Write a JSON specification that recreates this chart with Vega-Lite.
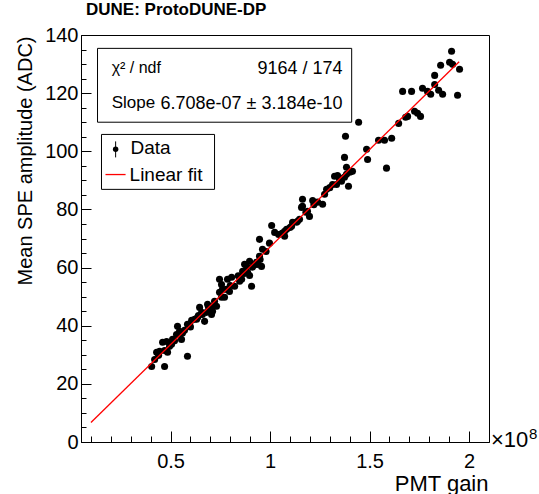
{
  "$schema": "https://vega.github.io/schema/vega-lite/v6.json",
  "width": 408,
  "height": 407,
  "autosize": "none",
  "padding": {"left": 81, "top": 35, "right": 50, "bottom": 52},
  "background": "white",
  "title": {"text": "DUNE: ProtoDUNE-DP", "anchor": "start", "frame": "group", "font": "Liberation Sans", "fontSize": 17, "fontWeight": "bold", "color": "black", "offset": 6, "dx": 5},
  "config": {
    "view": {"stroke": "black", "strokeWidth": 1},
    "font": "Liberation Sans",
    "axis": {"grid": false, "domainColor": "black", "tickColor": "black", "labelColor": "black", "titleColor": "black", "labelFont": "Liberation Sans", "titleFont": "Liberation Sans", "labelFontSize": 20, "titleFontWeight": "normal", "labelOverlap": false, "labelFlush": false}
  },
  "resolve": {"axis": {"x": "independent", "y": "independent"}},
  "datasets": {
    "points": [
      {"gain":0.405,"amp":26.0},{"gain":0.470,"amp":26.0},{"gain":0.585,"amp":29.5},{"gain":0.420,"amp":28.4},{"gain":0.430,"amp":30.9},
      {"gain":0.445,"amp":31.2},{"gain":0.460,"amp":34.3},{"gain":0.480,"amp":34.6},{"gain":0.485,"amp":30.9},{"gain":0.495,"amp":32.9},
      {"gain":0.505,"amp":33.6},{"gain":0.510,"amp":35.3},{"gain":0.530,"amp":37.0},{"gain":0.535,"amp":39.8},{"gain":0.545,"amp":38.1},
      {"gain":0.555,"amp":35.3},{"gain":0.570,"amp":38.4},{"gain":0.585,"amp":40.5},{"gain":0.595,"amp":40.5},{"gain":0.606,"amp":41.9},
      {"gain":0.621,"amp":42.2},{"gain":0.631,"amp":42.2},{"gain":0.636,"amp":42.9},{"gain":0.646,"amp":46.3},{"gain":0.656,"amp":44.6},
      {"gain":0.671,"amp":41.5},{"gain":0.681,"amp":44.6},{"gain":0.686,"amp":47.4},{"gain":0.696,"amp":45.6},{"gain":0.706,"amp":43.9},
      {"gain":0.711,"amp":45.0},{"gain":0.721,"amp":48.4},{"gain":0.731,"amp":46.7},{"gain":0.746,"amp":51.5},{"gain":0.746,"amp":56.0},
      {"gain":0.756,"amp":49.8},{"gain":0.756,"amp":54.2},{"gain":0.761,"amp":52.5},{"gain":0.771,"amp":49.8},{"gain":0.781,"amp":52.5},
      {"gain":0.786,"amp":56.0},{"gain":0.796,"amp":51.8},{"gain":0.807,"amp":56.7},{"gain":0.822,"amp":53.6},{"gain":0.847,"amp":55.3},
      {"gain":0.857,"amp":56.0},{"gain":0.862,"amp":58.7},{"gain":0.872,"amp":61.1},{"gain":0.882,"amp":60.4},{"gain":0.887,"amp":58.4},
      {"gain":0.897,"amp":62.2},{"gain":0.897,"amp":57.3},{"gain":0.907,"amp":53.6},{"gain":0.912,"amp":60.1},{"gain":0.932,"amp":61.8},
      {"gain":0.937,"amp":61.1},{"gain":0.947,"amp":63.9},{"gain":0.947,"amp":69.7},{"gain":0.957,"amp":60.4},{"gain":0.962,"amp":66.3},
      {"gain":0.997,"amp":68.4},{"gain":1.008,"amp":74.5},{"gain":1.023,"amp":72.1},{"gain":1.043,"amp":71.4},{"gain":1.073,"amp":70.8},
      {"gain":1.073,"amp":72.5},{"gain":1.083,"amp":73.2},{"gain":1.108,"amp":74.2},{"gain":1.113,"amp":75.6},{"gain":1.133,"amp":75.6},
      {"gain":1.138,"amp":75.9},{"gain":1.148,"amp":76.6},{"gain":1.158,"amp":80.7},{"gain":1.163,"amp":81.1},{"gain":1.163,"amp":83.5},
      {"gain":1.188,"amp":79.4},{"gain":1.198,"amp":77.6},{"gain":1.214,"amp":83.1},{"gain":1.239,"amp":82.5},{"gain":1.264,"amp":81.8},
      {"gain":1.274,"amp":85.2},{"gain":1.284,"amp":86.9},{"gain":1.314,"amp":88.6},{"gain":1.324,"amp":91.4},{"gain":1.334,"amp":88.6},
      {"gain":1.339,"amp":91.7},{"gain":1.349,"amp":90.4},{"gain":1.359,"amp":89.7},{"gain":1.374,"amp":91.1},{"gain":1.374,"amp":97.9},
      {"gain":1.384,"amp":94.5},{"gain":1.384,"amp":92.1},{"gain":1.394,"amp":88.0},{"gain":1.414,"amp":93.1},{"gain":1.445,"amp":110.0},
      {"gain":1.379,"amp":105.2},{"gain":1.485,"amp":100.7},{"gain":1.490,"amp":97.2},{"gain":1.585,"amp":94.2},{"gain":1.545,"amp":103.8},
      {"gain":1.575,"amp":103.8},{"gain":1.611,"amp":104.5},{"gain":1.646,"amp":109.6},{"gain":1.681,"amp":111.7},{"gain":1.691,"amp":112.0},
      {"gain":1.726,"amp":113.8},{"gain":1.741,"amp":113.1},{"gain":1.756,"amp":112.0},{"gain":1.666,"amp":120.6},{"gain":1.711,"amp":120.6},
      {"gain":1.766,"amp":121.7},{"gain":1.791,"amp":120.6},{"gain":1.807,"amp":119.6},{"gain":1.827,"amp":123.0},{"gain":1.827,"amp":126.1},
      {"gain":1.847,"amp":121.0},{"gain":1.867,"amp":119.6},{"gain":1.857,"amp":129.6},{"gain":1.902,"amp":130.6},{"gain":1.912,"amp":134.4},
      {"gain":1.917,"amp":129.9},{"gain":1.942,"amp":119.3},{"gain":1.952,"amp":128.2},
      {"gain":0.44,"amp":29.8},{"gain":0.47,"amp":31.5},{"gain":0.50,"amp":34.0},{"gain":0.52,"amp":34.8},{"gain":0.56,"amp":37.5},
      {"gain":0.60,"amp":39.6},{"gain":0.64,"amp":43.5},{"gain":0.66,"amp":43.9},{"gain":0.69,"amp":46.5},{"gain":0.72,"amp":47.0},
      {"gain":0.80,"amp":53.8},{"gain":0.84,"amp":57.2},{"gain":0.87,"amp":58.0},{"gain":0.92,"amp":61.0},{"gain":0.95,"amp":62.8},
      {"gain":0.98,"amp":65.5},{"gain":1.06,"amp":71.8},{"gain":1.10,"amp":73.8},{"gain":1.18,"amp":79.0},{"gain":1.22,"amp":81.6},
      {"gain":1.30,"amp":87.5},{"gain":1.35,"amp":90.8},{"gain":1.40,"amp":92.8}
    ],
    "fit": [{"gain": 0.1, "amp": 6.708}, {"gain": 1.95, "amp": 130.8}]
  },
  "layer": [
    {
      "data": {"name": "points"},
      "mark": {"type": "circle", "color": "black", "size": 50, "opacity": 1},
      "encoding": {
        "x": {"field": "gain", "type": "quantitative",
          "scale": {"domain": [0.05, 2.1], "nice": false, "zero": false},
          "axis": {"orient": "bottom", "title": "PMT gain", "titleFontSize": 22, "titleAlign": "right", "titleBaseline": "alphabetic", "titleX": 407, "titleY": 48,
            "values": [0.5, 1, 1.5, 2], "format": "~g",
            "tickSize": -11, "labelPadding": 20, "labelBaseline": "top"}},
        "y": {"field": "amp", "type": "quantitative",
          "scale": {"domain": [0, 140], "nice": false},
          "axis": {"orient": "left", "title": "Mean SPE amplitude (ADC)", "titleFontSize": 20, "titleAngle": 270, "titleAlign": "right", "titleBaseline": "alphabetic", "titleX": -50, "titleY": 1,
            "values": [0, 20, 40, 60, 80, 100, 120, 140],
            "tickSize": -10, "labelPadding": 13}}
      }
    },
    {
      "data": {"name": "fit"},
      "mark": {"type": "line", "color": "#ff0000", "strokeWidth": 1.3},
      "encoding": {
        "x": {"field": "gain", "type": "quantitative",
          "axis": {"orient": "bottom", "title": null, "labels": false, "domain": false,
            "values": [0.1,0.2,0.3,0.4,0.6,0.7,0.8,0.9,1.1,1.2,1.3,1.4,1.6,1.7,1.8,1.9],
            "tickSize": -6}},
        "y": {"field": "amp", "type": "quantitative",
          "axis": {"orient": "left", "title": null, "labels": false, "domain": false,
            "values": [5,10,15,25,30,35,45,50,55,65,70,75,85,90,95,105,110,115,125,130,135],
            "tickSize": -5}}
      }
    },
    {
      "data": {"values": [{}]},
      "mark": {"type": "rect", "fill": "white", "stroke": "black", "strokeWidth": 1},
      "encoding": {
        "x": {"datum": 0.133, "type": "quantitative", "axis": null}, "x2": {"datum": 1.41},
        "y": {"datum": 135.4, "type": "quantitative", "axis": null}, "y2": {"datum": 110.0}
      }
    },
    {
      "data": {"values": [{}]},
      "mark": {"type": "rect", "fill": "white", "stroke": "black", "strokeWidth": 1},
      "encoding": {
        "x": {"datum": 0.153, "type": "quantitative", "axis": null}, "x2": {"datum": 0.721},
        "y": {"datum": 105.8, "type": "quantitative", "axis": null}, "y2": {"datum": 86.9}
      }
    },
    {
      "data": {"values": [{}]},
      "mark": {"type": "rule", "color": "black", "strokeWidth": 1},
      "encoding": {
        "x": {"datum": 0.224, "type": "quantitative", "axis": null},
        "y": {"datum": 103.4, "type": "quantitative", "axis": null}, "y2": {"datum": 97.9}
      }
    },
    {
      "data": {"values": [{}]},
      "mark": {"type": "circle", "color": "black", "size": 30, "opacity": 1},
      "encoding": {
        "x": {"datum": 0.224, "type": "quantitative", "axis": null},
        "y": {"datum": 100.7, "type": "quantitative", "axis": null}
      }
    },
    {
      "data": {"values": [{}]},
      "mark": {"type": "rule", "color": "#ff0000", "strokeWidth": 1.3},
      "encoding": {
        "x": {"datum": 0.173, "type": "quantitative", "axis": null}, "x2": {"datum": 0.274},
        "y": {"datum": 92.0, "type": "quantitative", "axis": null}
      }
    },
    {
      "data": {"values": [
        {"label": "χ² / ndf", "px": 0.204, "py": 126.8, "fs": 16},
        {"label": "Slope", "px": 0.204, "py": 114.8, "fs": 17},
        {"label": "Data", "px": 0.299, "py": 99.0, "fs": 19},
        {"label": "Linear fit", "px": 0.294, "py": 89.7, "fs": 19}
      ]},
      "mark": {"type": "text", "align": "left", "baseline": "alphabetic", "font": "Liberation Sans", "color": "black"},
      "encoding": {
        "x": {"field": "px", "type": "quantitative", "axis": null},
        "y": {"field": "py", "type": "quantitative", "axis": null},
        "text": {"field": "label"},
        "size": {"field": "fs", "type": "quantitative", "scale": null, "legend": null}
      }
    },
    {
      "data": {"values": [
        {"label": "9164 / 174", "px": 1.364, "py": 126.5},
        {"label": "6.708e-07 ± 3.184e-10", "px": 1.364, "py": 114.4}
      ]},
      "mark": {"type": "text", "align": "right", "baseline": "alphabetic", "font": "Liberation Sans", "color": "black", "fontSize": 18},
      "encoding": {
        "x": {"field": "px", "type": "quantitative", "axis": null},
        "y": {"field": "py", "type": "quantitative", "axis": null},
        "text": {"field": "label"}
      }
    },
    {
      "data": {"values": [{"label": "×10"}]},
      "mark": {"type": "text", "align": "left", "baseline": "alphabetic", "font": "Liberation Sans", "color": "black", "fontSize": 22, "dx": 2, "dy": 5},
      "encoding": {
        "x": {"datum": 2.1, "type": "quantitative", "axis": null},
        "y": {"datum": 0, "type": "quantitative", "axis": null},
        "text": {"field": "label"}
      }
    },
    {
      "data": {"values": [{"label": "8"}]},
      "mark": {"type": "text", "align": "left", "baseline": "alphabetic", "font": "Liberation Sans", "color": "black", "fontSize": 15, "dx": 40, "dy": -3},
      "encoding": {
        "x": {"datum": 2.1, "type": "quantitative", "axis": null},
        "y": {"datum": 0, "type": "quantitative", "axis": null},
        "text": {"field": "label"}
      }
    }
  ]
}
